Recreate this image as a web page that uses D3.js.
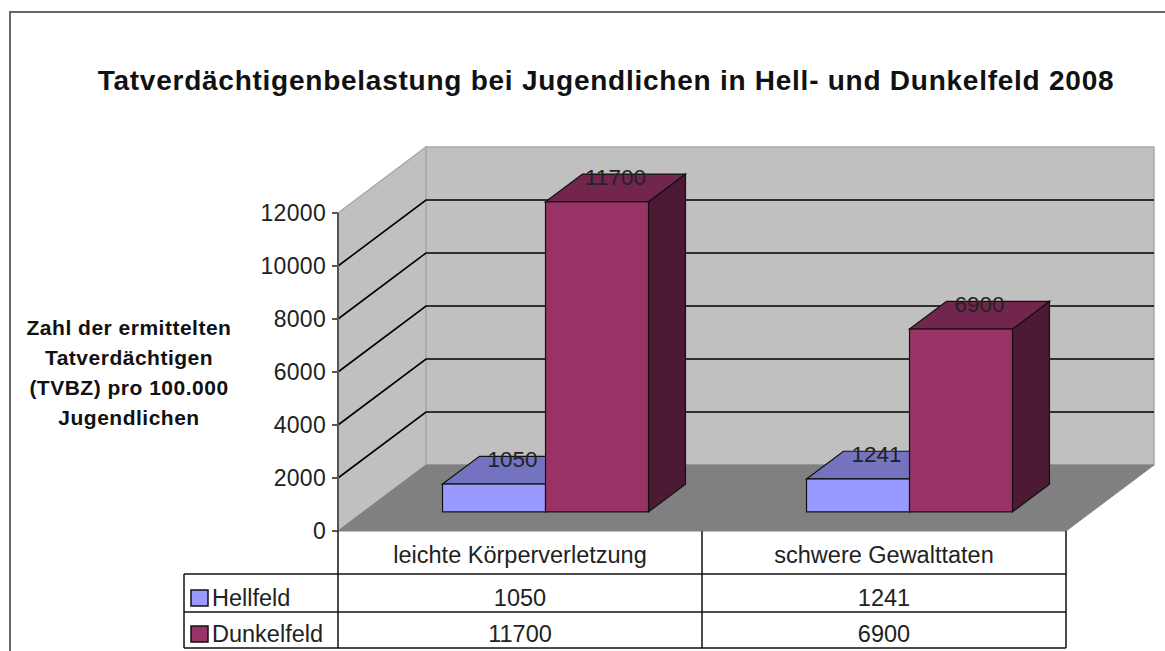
<!DOCTYPE html>
<html><head><meta charset="utf-8">
<script src="https://cdn.jsdelivr.net/npm/d3@7"></script>
<style>body{margin:0;background:#fff}svg{display:block}text{font-family:"Liberation Sans",Arial,sans-serif}</style>
</head><body>
<svg id="c" width="1165" height="651"></svg>
<script>
const title = "Tatverdächtigenbelastung bei Jugendlichen in Hell- und Dunkelfeld 2008";
const yTitle = ["Zahl der ermittelten","Tatverdächtigen","(TVBZ) pro 100.000","Jugendlichen"];
const categories = ["leichte Körperverletzung","schwere Gewalttaten"];
const seriesNames = ["Hellfeld","Dunkelfeld"];
const hellfeld = [1050,1241];
const dunkelfeld = [11700,6900];
const yTicks = [0,2000,4000,6000,8000,10000,12000];
const colors = {Hellfeld:{front:"#9999ff",top:"#7373bf",side:"#4d4d80"},Dunkelfeld:{front:"#993366",top:"#73264d",side:"#4d1a33"}};

const svg = d3.select("#c");
const X0=338, X1=1066, DX=88, DY=-66;
const y = d3.scaleLinear().domain([0,12000]).range([531,213]);
const xc = d3.scaleBand().domain(categories).range([X0,X1]);
const xs = d3.scaleBand().domain(seriesNames).range([0,xc.bandwidth()]).paddingOuter(0.767);
const off = f => [DX*f, DY*f];

// frame
svg.append("rect").attr("x",10).attr("y",12).attr("width",1200).attr("height",700).attr("fill","none").attr("stroke","#666").attr("stroke-width",2);

// title
svg.append("text").attr("x",606).attr("y",90).attr("text-anchor","middle").attr("font-size",28).attr("letter-spacing",0.75).attr("font-weight","bold").attr("fill","#111").text(title);

// y title
svg.append("g").selectAll("text").data(yTitle).join("text")
  .attr("x",129).attr("y",(d,i)=>335+i*30).attr("text-anchor","middle")
  .attr("font-size",21).attr("letter-spacing",0.5).attr("font-weight","bold").attr("fill","#111").text(d=>d);

const [bx,by]=off(1);
const line = d3.line();
// back wall
svg.append("path").attr("d",line([[X0+bx,y(12000)+by],[X1+bx,y(12000)+by],[X1+bx,y(0)+by],[X0+bx,y(0)+by]])+"Z").attr("fill","#c0c0c0").attr("stroke","#a8a8a8").attr("stroke-width",1.5);
// side wall
svg.append("path").attr("d",line([[X0,y(12000)],[X0+bx,y(12000)+by],[X0+bx,y(0)+by],[X0,y(0)]])+"Z").attr("fill","#c0c0c0").attr("stroke","#a8a8a8").attr("stroke-width",1.5);
// floor
svg.append("path").attr("d",line([[X0,y(0)],[X0+bx,y(0)+by],[X1+bx,y(0)+by],[X1,y(0)]])+"Z").attr("fill","#808080").attr("stroke","#808080");

// gridlines
const g = svg.append("g").attr("stroke","#000").attr("stroke-width",1.6).attr("fill","none");
yTicks.filter(t=>t>0&&t<12000).forEach(t=>{
  g.append("path").attr("d",line([[X0,y(t)],[X0+bx,y(t)+by],[X1+bx,y(t)+by]]));
});

// axis
svg.append("line").attr("x1",X0).attr("x2",X0).attr("y1",y(12000)).attr("y2",y(0)).attr("stroke","#555").attr("stroke-width",2);
svg.append("g").selectAll("line").data(yTicks).join("line").attr("x1",X0-6).attr("x2",X0).attr("y1",d=>y(d)).attr("y2",d=>y(d)).attr("stroke","#555").attr("stroke-width",2);
svg.append("g").selectAll("text").data(yTicks).join("text").attr("x",X0-12).attr("y",d=>y(d)+8).attr("text-anchor","end").attr("font-size",23).attr("letter-spacing",0.3).attr("fill","#222").text(d=>d);

// bars
const f1=0.29, f2=0.71;
const data = [];
categories.forEach((c,i)=>{ data.push({c,s:"Hellfeld",v:hellfeld[i]}); data.push({c,s:"Dunkelfeld",v:dunkelfeld[i]}); });
const bars = svg.append("g");
data.forEach(d=>{
  const [ax,ay]=off(f1),[ex,ey]=off(f2);
  const xl = xc(d.c)+xs(d.s)+ax, xr = xl+xs.bandwidth();
  const yb = y(0)+ay, yt = y(d.v)+ay;
  const ddx=ex-ax, ddy=ey-ay;
  const col=colors[d.s];
  bars.append("path").attr("d",line([[xr,yt],[xr+ddx,yt+ddy],[xr+ddx,yb+ddy],[xr,yb]])+"Z").attr("fill",col.side).attr("stroke","#111").attr("stroke-width",1.2);
  bars.append("path").attr("d",line([[xl,yt],[xl+ddx,yt+ddy],[xr+ddx,yt+ddy],[xr,yt]])+"Z").attr("fill",col.top).attr("stroke","#111").attr("stroke-width",1.2);
  bars.append("rect").attr("x",xl).attr("y",yt).attr("width",xr-xl).attr("height",yb-yt).attr("fill",col.front).attr("stroke","#111").attr("stroke-width",1.2);
  bars.append("text").attr("x",(xl+xr)/2+ddx/2).attr("y",yt+ddy/2-3).attr("text-anchor","middle").attr("font-size",22.5).attr("fill","#222").text(d.v);
});

// data table
const tb = svg.append("g").attr("stroke","#111").attr("stroke-width",1.5);
[X0,xc(categories[1]),X1].forEach(x=>tb.append("line").attr("x1",x).attr("x2",x).attr("y1",531).attr("y2",648));
tb.append("line").attr("x1",184).attr("x2",184).attr("y1",574).attr("y2",648);
[574,612,648].forEach(yy=>tb.append("line").attr("x1",184).attr("x2",X1).attr("y1",yy).attr("y2",yy));
const txt = svg.append("g").attr("font-size",23.5).attr("fill","#222");
categories.forEach((c,i)=>{
  const cx = xc(c)+xc.bandwidth()/2;
  txt.append("text").attr("x",cx).attr("y",563).attr("text-anchor","middle").text(c);
  txt.append("text").attr("x",cx).attr("y",606).attr("text-anchor","middle").text(hellfeld[i]);
  txt.append("text").attr("x",cx).attr("y",642).attr("text-anchor","middle").text(dunkelfeld[i]);
});
seriesNames.forEach((s,i)=>{
  const yy=[606,642][i];
  svg.append("rect").attr("x",191).attr("y",yy-16).attr("width",17).attr("height",16).attr("fill",colors[s].front).attr("stroke","#111").attr("stroke-width",1.5);
  txt.append("text").attr("x",212).attr("y",yy).text(s);
});
</script>
</body></html>
